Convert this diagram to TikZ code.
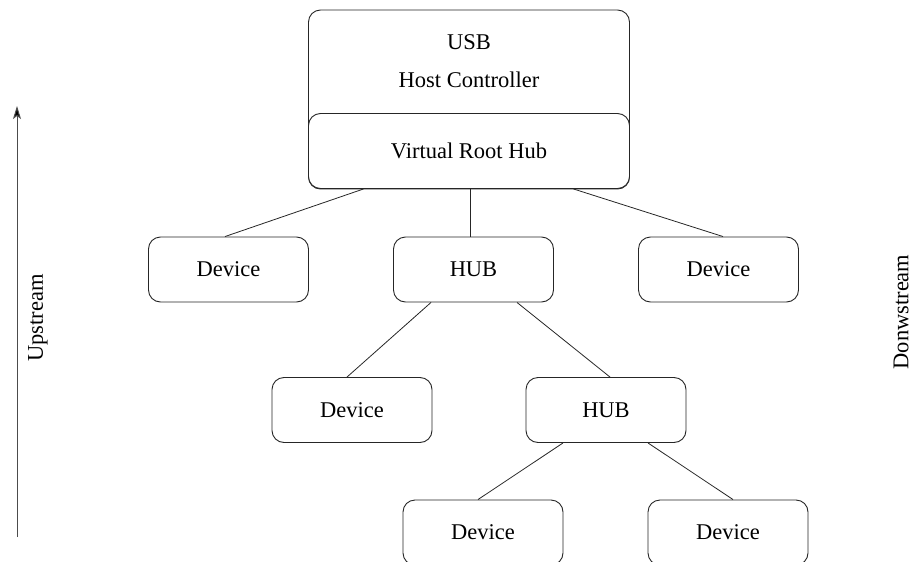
\documentclass[tikz,border=0pt]{standalone}
\usepackage{fontspec}
\setmainfont{Liberation Serif}
\usetikzlibrary{arrows.meta}
\tikzset{
  box/.style={draw=black!85, line width=0.9pt, rounded corners=12pt, fill=white,
    minimum width=160pt, minimum height=65pt, inner sep=0pt,
    font=\fontsize{22.5}{26}\selectfont},
  conn/.style={draw=black!85, line width=0.8pt},
  lbl/.style={font=\fontsize{22.5}{26}\selectfont, inner sep=0pt}
}
\begin{document}
\begin{tikzpicture}[x=1pt,y=-1pt]
\useasboundingbox (0,0) rectangle (916,562);
% host controller
\node[box, minimum width=321pt, minimum height=179pt] (host) at (469,99.5) {};
\node[lbl, align=center] (hosttext) at (469,61) {USB\\[12pt]Host Controller};
\node[box, minimum width=321pt, minimum height=75pt] (vrh) at (469,151) {Virtual Root Hub};
% devices and hubs
\node[box] (d1) at (228.5,269.5) {Device};
\node[box] (hub1) at (473.5,269.5) {HUB};
\node[box] (d2) at (718.5,269.5) {Device};
\node[box] (d3) at (352,410) {Device};
\node[box] (hub2) at (606,410) {HUB};
\node[box] (d4) at (483,532.5) {Device};
\node[box] (d5) at (728,532.5) {Device};
% connectors
\draw[conn] ([xshift=55.5pt]vrh.south west) -- ([xshift=-3.5pt]d1.north);
\draw[conn] ([xshift=1pt]vrh.south) -- ([xshift=-3.5pt]hub1.north);
\draw[conn] ([xshift=-56.5pt]vrh.south east) -- ([xshift=4.5pt]d2.north);
\draw[conn] ([xshift=-42.5pt]hub1.south) -- ([xshift=-5pt]d3.north);
\draw[conn] ([xshift=43.5pt]hub1.south) -- ([xshift=4pt]hub2.north);
\draw[conn] ([xshift=-43pt]hub2.south) -- ([xshift=-5pt]d4.north);
\draw[conn] ([xshift=42pt]hub2.south) -- ([xshift=5pt]d5.north);
% upstream arrow
\coordinate (upbot) at (17,537);
\coordinate (uptop) at (17,106);
\draw[draw=black!70, line width=1pt, -{Stealth[length=13pt,width=8pt,inset=3pt,fill=black]}] (upbot) -- (uptop);
\node[lbl, rotate=90] (up) at (38,318) {Upstream};
\node[lbl, rotate=90] (down) at (901,312) {Donwstream};
\end{tikzpicture}
\end{document}
